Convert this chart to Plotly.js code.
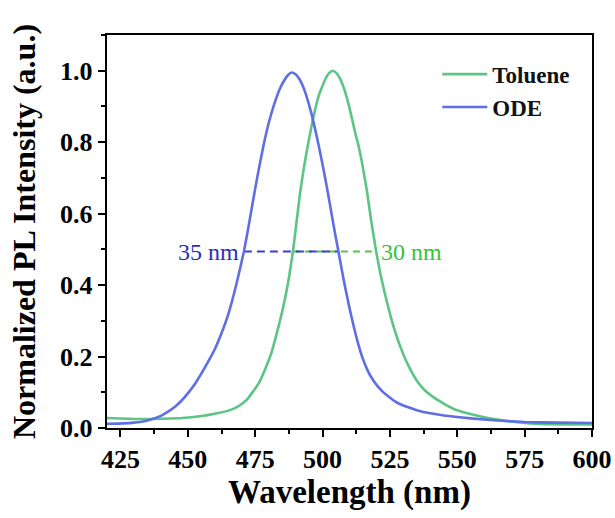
<!DOCTYPE html>
<html>
<head>
<meta charset="utf-8">
<script src="https://cdn.plot.ly/plotly-3.0.1.min.js"></script>
<style>html,body{margin:0;padding:0;background:#fff;}#chart{width:615px;height:518px;}</style>
</head>
<body>
<div id="chart"></div>
<script>
// ODE spectrum (blue)
const odeWavelength = [420,426,430,434,437.2,440,442.5,445,447.7,450,452.7,455,457.5,460.1,462.5,464.7,466.5,468.1,469.5,470.8,472.2,473.6,475,476.6,478.2,480,482,484,485.7,487.2,488.6,490,491.4,492.8,494.2,495.7,497.2,498.7,500.2,501.7,503.1,504.5,505.9,507.2,508.5,510,511.5,513,514.8,516.8,518.5,520.1,522,524,527,531,535,540,545,555,565,575,587,600];
const odeIntensity = [0.012,0.013,0.015,0.019,0.026,0.034,0.045,0.058,0.077,0.097,0.124,0.152,0.185,0.222,0.265,0.311,0.358,0.405,0.45,0.494,0.55,0.61,0.67,0.735,0.795,0.853,0.905,0.947,0.972,0.988,0.995,0.99,0.977,0.955,0.925,0.885,0.838,0.786,0.73,0.67,0.61,0.55,0.494,0.44,0.39,0.336,0.286,0.242,0.197,0.16,0.137,0.12,0.104,0.091,0.074,0.06,0.05,0.041,0.035,0.027,0.021,0.017,0.015,0.014];
// Toluene spectrum (green)
const tolWavelength = [420,428,434,440,448,454.5,460,465.7,469,472,474,476.5,479,481,482.5,484.2,486,487.5,489.0,490.4,491.7,493,494.5,496,497.5,498.8,500,501.2,502.5,503.8,505.1,506.4,507.6,509,510.5,512,513.5,515,516.5,518,519.9,521.5,523,525,527,529,531.5,535,538,541,545,548.5,552,556,562,568,577,590,600];
const tolIntensity = [0.028,0.026,0.025,0.026,0.028,0.033,0.040,0.050,0.062,0.080,0.100,0.128,0.170,0.210,0.250,0.300,0.360,0.420,0.494,0.580,0.660,0.725,0.790,0.848,0.900,0.935,0.958,0.979,0.994,1.0,0.994,0.979,0.958,0.925,0.880,0.830,0.785,0.728,0.662,0.582,0.494,0.430,0.380,0.320,0.268,0.225,0.180,0.132,0.105,0.087,0.068,0.054,0.045,0.037,0.027,0.020,0.013,0.010,0.010];
// FWHM markers
const fwhmODE = [470.8, 505.9];
const fwhmTol = [489.0, 519.9];
const fwhmLevel = 0.494;
const seriesNames = ['Toluene', 'ODE'];
const fwhmLabels = ['35 nm', '30 nm'];

const green = '#5cc585';
const blue = '#5e6ee4';
const serif = 'Liberation Serif, Times New Roman, serif';

const traces = [
  {x: fwhmTol, y: [fwhmLevel, fwhmLevel], mode: 'lines', showlegend: false, hoverinfo: 'skip',
   line: {color: '#55c455', width: 1.8, dash: '7px,5px'}},
  {x: fwhmODE, y: [fwhmLevel, fwhmLevel], mode: 'lines', showlegend: false, hoverinfo: 'skip',
   line: {color: '#3a3fd0', width: 2, dash: '8px,5px'}},
  {x: tolWavelength, y: tolIntensity, name: seriesNames[0], mode: 'lines',
   line: {color: green, width: 2.6, shape: 'spline', smoothing: 0.5}, legendgroup: 'a'},
  {x: odeWavelength, y: odeIntensity, name: seriesNames[1], mode: 'lines',
   line: {color: blue, width: 2.6, shape: 'spline', smoothing: 0.5}, legendgroup: 'b'}
];

const layout = {
  width: 615, height: 518,
  margin: {l: 107, r: 23, t: 35, b: 90},
  paper_bgcolor: '#fff', plot_bgcolor: '#fff',
  font: {family: serif, color: '#000'},
  showlegend: true,
  legend: {x: 0.681, y: 0.955, xanchor: 'left', yanchor: 'top', bgcolor: 'rgba(0,0,0,0)',
           font: {family: serif, size: 23, color: '#111', weight: 'bold'}, traceorder: 'grouped', tracegroupgap: 0,
           itemwidth: 45},
  xaxis: {
    range: [420, 600], tickvals: [425,450,475,500,525,550,575,600],
    ticks: 'outside', ticklen: 7, tickwidth: 2, tickcolor: '#000',
    minor: {dtick: 12.5, tick0: 412.5, ticks: 'outside', ticklen: 4, tickwidth: 2, tickcolor: '#000'},
    showline: true, linewidth: 2.2, linecolor: '#000', mirror: true, showgrid: false, zeroline: false,
    tickfont: {family: serif, size: 26, color: '#000', weight: 'bold'},
    title: {text: '<b>Wavelength (nm)</b>', font: {family: serif, size: 33, color: '#000'}, standoff: 6}
  },
  yaxis: {
    range: [0, 1.1], tickvals: [0, 0.2, 0.4, 0.6, 0.8, 1.0], ticktext: ['0.0','0.2','0.4','0.6','0.8','1.0'],
    ticks: 'outside', ticklen: 7, tickwidth: 2, tickcolor: '#000',
    minor: {dtick: 0.1, ticks: 'outside', ticklen: 4, tickwidth: 2, tickcolor: '#000'},
    showline: true, linewidth: 2.2, linecolor: '#000', mirror: true, showgrid: false, zeroline: false,
    tickfont: {family: serif, size: 26, color: '#000', weight: 'bold'},
    title: {text: '<b>Normalized PL Intensity (a.u.)</b>', font: {family: serif, size: 32, color: '#000'}, standoff: 15}
  },
  annotations: [
    {x: fwhmODE[0], y: fwhmLevel, xref: 'x', yref: 'y', text: fwhmLabels[0], showarrow: false,
     xanchor: 'right', yanchor: 'middle', xshift: -3, font: {family: serif, size: 24, color: '#2d2db8'}},
    {x: fwhmTol[1], y: fwhmLevel, xref: 'x', yref: 'y', text: fwhmLabels[1], showarrow: false,
     xanchor: 'left', yanchor: 'middle', xshift: 3, font: {family: serif, size: 24, color: '#33c433'}}
  ]
};

Plotly.newPlot('chart', traces, layout, {displayModeBar: false, staticPlot: true});
</script>
</body>
</html>
